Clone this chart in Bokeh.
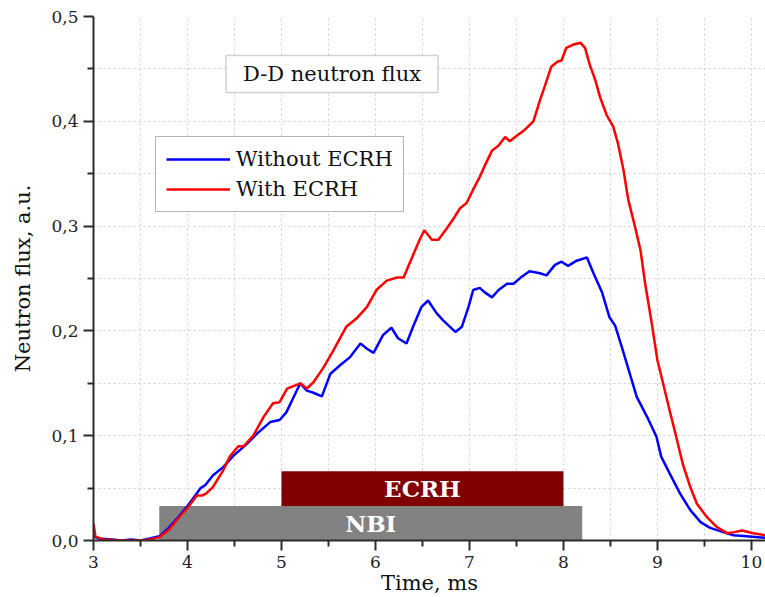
from bokeh.plotting import figure
from bokeh.models import (FixedTicker, CustomJSTickFormatter, Legend, LegendItem,
                          BoxAnnotation, Label, ColumnDataSource, Range1d)
from bokeh.embed import file_html
from bokeh.resources import INLINE

# ---------------- data ----------------
t_without = [3.00, 3.05, 3.20, 3.30, 3.40, 3.50, 3.60, 3.70, 3.80, 3.90, 4.00, 4.10, 4.14, 4.19,
             4.27, 4.38, 4.49, 4.63, 4.74, 4.88, 4.98, 5.05, 5.12, 5.20, 5.27, 5.34, 5.43, 5.52,
             5.62, 5.73, 5.84, 5.91, 5.98, 6.08, 6.17, 6.24, 6.33, 6.40, 6.49, 6.56, 6.65, 6.72,
             6.85, 6.92, 6.99, 7.04, 7.11, 7.16, 7.24, 7.31, 7.40, 7.47, 7.56, 7.64, 7.75, 7.82,
             7.91, 7.98, 8.05, 8.14, 8.25, 8.32, 8.41, 8.49, 8.55, 8.62, 8.69, 8.78, 8.89, 8.99,
             9.04, 9.13, 9.24, 9.35, 9.46, 9.56, 9.70, 9.81, 9.95, 10.15]
flux_without = [0.004, 0.002, 0.001, 0.000, 0.001, 0.000, 0.002, 0.004, 0.012, 0.022, 0.033, 0.045,
                0.050, 0.053, 0.062, 0.070, 0.081, 0.092, 0.102, 0.113, 0.115, 0.122, 0.135, 0.150,
                0.143, 0.141, 0.1375, 0.159, 0.167, 0.175, 0.188, 0.183, 0.179, 0.196, 0.203, 0.193,
                0.188, 0.204, 0.223, 0.229, 0.217, 0.210, 0.199, 0.204, 0.223, 0.239, 0.241, 0.237,
                0.232, 0.239, 0.245, 0.245, 0.252, 0.257, 0.255, 0.253, 0.263, 0.266, 0.262, 0.267,
                0.270, 0.255, 0.237, 0.213, 0.205, 0.185, 0.164, 0.137, 0.118, 0.099, 0.080, 0.064,
                0.045, 0.029, 0.0175, 0.012, 0.008, 0.005, 0.004, 0.0025]

t_with = [3.00, 3.02, 3.10, 3.30, 3.50, 3.60, 3.70, 3.80, 3.90, 4.00, 4.10, 4.16, 4.20, 4.27, 4.38,
          4.45, 4.54, 4.60, 4.70, 4.81, 4.91, 4.98, 5.06, 5.20, 5.27, 5.34, 5.44, 5.55, 5.69, 5.80,
          5.91, 6.01, 6.12, 6.23, 6.30, 6.37, 6.47, 6.52, 6.60, 6.67, 6.76, 6.83, 6.90, 6.97, 7.04,
          7.11, 7.16, 7.24, 7.31, 7.38, 7.43, 7.50, 7.59, 7.68, 7.75, 7.80, 7.87, 7.94, 7.98, 8.03,
          8.10, 8.18, 8.23, 8.28, 8.34, 8.39, 8.46, 8.53, 8.58, 8.64, 8.69, 8.76, 8.82, 8.87, 8.94,
          9.00, 9.06, 9.13, 9.20, 9.27, 9.35, 9.42, 9.53, 9.63, 9.74, 9.82, 9.90, 10.02, 10.15]
flux_with = [0.016, 0.004, 0.001, 0.000, 0.000, 0.001, 0.003, 0.010, 0.021, 0.031, 0.043, 0.043,
             0.045, 0.051, 0.067, 0.080, 0.090, 0.090, 0.100, 0.118, 0.131, 0.132, 0.145, 0.150,
             0.145, 0.151, 0.164, 0.181, 0.204, 0.212, 0.223, 0.239, 0.248, 0.251, 0.251, 0.266,
             0.287, 0.296, 0.287, 0.287, 0.298, 0.307, 0.317, 0.322, 0.335, 0.347, 0.357, 0.372,
             0.377, 0.385, 0.381, 0.386, 0.392, 0.400, 0.420, 0.433, 0.452, 0.457, 0.458, 0.470,
             0.473, 0.475, 0.470, 0.454, 0.439, 0.423, 0.406, 0.395, 0.379, 0.353, 0.325, 0.300,
             0.277, 0.245, 0.207, 0.172, 0.150, 0.124, 0.099, 0.073, 0.051, 0.035, 0.022, 0.013,
             0.007, 0.008, 0.0095, 0.007, 0.005]

series_labels = ["Without ECRH", "With ECRH"]

bar_names = ["NBI", "ECRH"]
bar_start = [3.7, 5.0]
bar_end = [8.2, 8.0]
bar_bottom = [0.0, 0.033]
bar_top = [0.033, 0.066]

x_ticks = [3, 4, 5, 6, 7, 8, 9, 10]
x_minor = [3.5, 4.5, 5.5, 6.5, 7.5, 8.5, 9.5]
y_ticks = [0.0, 0.1, 0.2, 0.3, 0.4, 0.5]
y_minor = [0.05, 0.15, 0.25, 0.35, 0.45]

title_text = "D-D neutron flux"
x_label = "Time, ms"
y_label = "Neutron flux, a.u."

# ---------------- style ----------------
FONT = "DejaVu Serif"
GRID = "#cfcfcf"
AXIS = "#2b2b2b"

p = figure(width=765, height=597, output_backend="svg", toolbar_location=None,
           x_range=Range1d(3, 10.15), y_range=Range1d(0, 0.5),
           min_border_left=93, min_border_right=0, min_border_top=16, min_border_bottom=57)
p.outline_line_color = None
p.background_fill_color = "white"

# grids
p.xgrid.ticker = FixedTicker(ticks=x_ticks, minor_ticks=x_minor)
p.ygrid.ticker = FixedTicker(ticks=y_ticks, minor_ticks=y_minor)
for g in (p.xgrid, p.ygrid):
    g.grid_line_color = GRID
    g.grid_line_dash = "2 3"
    g.grid_line_width = 1
    g.minor_grid_line_color = GRID
    g.minor_grid_line_dash = "2 3"
    g.minor_grid_line_width = 1

# axes
p.xaxis.ticker = FixedTicker(ticks=x_ticks, minor_ticks=x_minor)
p.yaxis.ticker = FixedTicker(ticks=y_ticks, minor_ticks=y_minor)
p.yaxis.formatter = CustomJSTickFormatter(code="return tick.toFixed(1).replace('.', ',');")
for ax in (p.xaxis, p.yaxis):
    ax.axis_line_color = AXIS
    ax.axis_line_width = 2
    ax.major_tick_line_color = AXIS
    ax.major_tick_line_width = 2
    ax.minor_tick_line_color = AXIS
    ax.minor_tick_line_width = 2
    ax.major_tick_in = 0
    ax.major_tick_out = 10
    ax.minor_tick_in = 0
    ax.minor_tick_out = 6
    ax.major_label_text_font = FONT
    ax.major_label_text_font_size = "17px"
    ax.major_label_text_color = "#222222"
    ax.major_label_standoff = 5
    ax.axis_label_text_font = FONT
    ax.axis_label_text_font_size = "21px"
    ax.axis_label_text_font_style = "normal"
    ax.axis_label_text_color = "#111111"
p.xaxis.axis_label = x_label
p.yaxis.axis_label = y_label
p.xaxis.axis_label_standoff = 0
p.yaxis.axis_label_standoff = 13

# bars
bar_colors = ["#828282", "#800000"]
bars = ColumnDataSource(dict(left=bar_start, right=bar_end, bottom=bar_bottom, top=bar_top,
                             color=bar_colors, name=bar_names,
                             xc=[(a + b) / 2 for a, b in zip(bar_start, bar_end)],
                             yc=[(a + b) / 2 for a, b in zip(bar_bottom, bar_top)]))
p.quad(left="left", right="right", bottom="bottom", top="top", fill_color="color",
       line_color=None, source=bars)
p.text(x="xc", y="yc", text="name", source=bars, text_align="center", text_baseline="middle",
       text_color="white", text_font={"value": FONT}, text_font_style="bold",
       text_font_size="23px")

# lines
r_blue = p.line(t_without, flux_without, line_color="#0000ff", line_width=2.5)
r_red = p.line(t_with, flux_with, line_color="#ff0000", line_width=2.5)

legend = Legend(items=[LegendItem(label=series_labels[0], renderers=[r_blue]),
                       LegendItem(label=series_labels[1], renderers=[r_red])],
                location=(62, 328))
legend.label_text_font = FONT
legend.label_text_font_size = "21px"
legend.label_text_color = "#111111"
legend.border_line_color = "#6a6a6a"
legend.border_line_width = 1.5
legend.background_fill_color = "white"
legend.background_fill_alpha = 1
legend.padding = 10
legend.margin = 0
legend.spacing = 6
legend.glyph_width = 64
legend.glyph_height = 24
legend.label_height = 24
legend.label_standoff = 6
p.add_layout(legend, "center")

# title box
box = BoxAnnotation(left=4.41, right=6.665, bottom=0.4274, top=0.4628,
                    fill_color="white", fill_alpha=1, line_color="#6a6a6a", line_width=1.5)
p.add_layout(box)
p.add_layout(Label(x=(4.41 + 6.665) / 2, y=(0.4274 + 0.4628) / 2, text=title_text,
                   text_align="center", text_baseline="middle", text_font=FONT,
                   text_font_size="21px", text_color="#111111"))

open("out.html", "w").write(file_html(p, INLINE))
